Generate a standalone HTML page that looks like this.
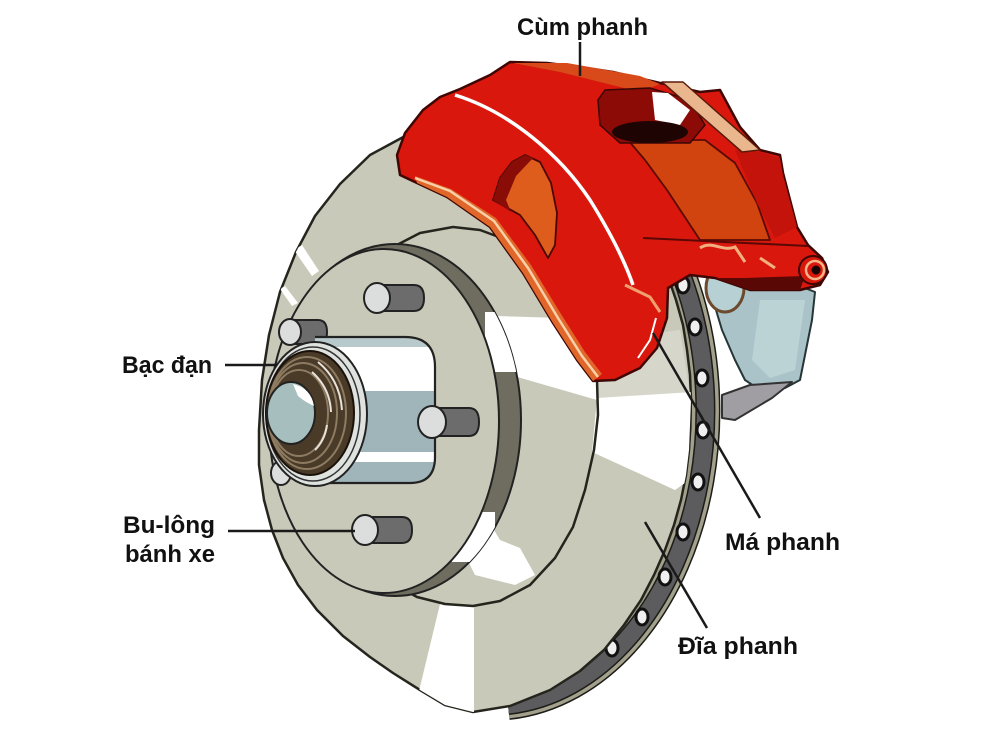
<!DOCTYPE html>
<html><head><meta charset="utf-8">
<style>html,body{margin:0;padding:0;background:#fff}svg{display:block}</style>
</head><body>
<svg xmlns="http://www.w3.org/2000/svg" width="1000" height="750" viewBox="0 0 1000 750">
<defs>
<clipPath id="faceClip"><polygon points="455,126 500,127 540,133 580,150 617,185 645,225 663,262 676,300 683,325 687,350 690,375 691,400 690,425 689,450 686,475 681,500 674,525 665,550 654,575 641,600 624,625 604,650 580,671 550,690 510,706 473,712 445,705 420,690 393,673 370,657 343,636 317,610 298,585 283,558 272,530 264,500 259,465 259,430 262,380 269,335 280,292 296,252 315,216 340,184 370,155 407,135 430,129"/></clipPath>
<clipPath id="bandClip"><ellipse cx="395" cy="420" rx="126" ry="176"/></clipPath>
<clipPath id="hubClip"><path d="M315,337 H405 Q435,337 435,367 V457 Q435,483 410,483 H315 Z"/></clipPath>
</defs>
<rect width="1000" height="750" fill="#fff"/>

<!-- rim band -->
<g fill="none">
<path d="M604,160 A214,295 0 0,1 508,705" stroke="#1c1c18" stroke-width="30"/>
<path d="M604,160 A214,295 0 0,1 508,705" stroke="#a3a18b" stroke-width="27"/>
<path d="M604,160 A214,295 0 0,1 508,705" stroke="#1c1c18" stroke-width="20"/>
<path d="M604,160 A214,295 0 0,1 508,705" stroke="#5c5c5e" stroke-width="17"/>
</g>
<g fill="#efefef" stroke="#111" stroke-width="3">
<ellipse cx="683" cy="285" rx="6" ry="8"/>
<ellipse cx="695" cy="327" rx="6" ry="8"/>
<ellipse cx="702" cy="378" rx="6" ry="8"/>
<ellipse cx="703" cy="430" rx="6" ry="8"/>
<ellipse cx="698" cy="482" rx="6" ry="8"/>
<ellipse cx="683" cy="532" rx="6" ry="8"/>
<ellipse cx="665" cy="577" rx="6" ry="8"/>
<ellipse cx="642" cy="617" rx="6" ry="8"/>
<ellipse cx="612" cy="648" rx="6" ry="8"/>
</g>

<!-- disc face -->
<polygon points="455,126 500,127 540,133 580,150 617,185 645,225 663,262 676,300 683,325 687,350 690,375 691,400 690,425 689,450 686,475 681,500 674,525 665,550 654,575 641,600 624,625 604,650 580,671 550,690 510,706 473,712 445,705 420,690 393,673 370,657 343,636 317,610 298,585 283,558 272,530 264,500 259,465 259,430 262,380 269,335 280,292 296,252 315,216 340,184 370,155 407,135 430,129" fill="#c9c9b9" stroke="#25251e" stroke-width="2.5" stroke-linejoin="round"/>
<g clip-path="url(#faceClip)">
<polygon points="598,340 680,330 690,394 597,398" fill="#d6d6ca"/>
<polygon points="495,316 560,318 590,335 598,385 597,400 500,372" fill="#fff"/>
<polygon points="597,398 692,392 692,478 675,490 592,452" fill="#fff"/>
<polygon points="460,518 487,518 500,540 520,548 535,575 515,585 475,575 460,545" fill="#fff"/>
<polygon points="440,604 474,606 474,720 412,720" fill="#fff"/>
<polygon points="294,250 302,245 319,271 312,276" fill="#fff"/>
<polygon points="280,289 285,286 298,303 292,306" fill="#fff"/>
</g>

<!-- hat outline -->
<polyline points="393,247 420,233 453,227 480,230 507,240 535,257 558,280 576,310 590,345 597,380 598,415 594,450 585,490 573,527 555,558 530,585 500,601 473,606 445,604 417,597 395,585 383,577" fill="none" stroke="#25251e" stroke-width="2.5" stroke-linejoin="round"/>

<!-- flange band -->
<ellipse cx="395" cy="420" rx="126" ry="176" fill="#6f6d5f" stroke="#222" stroke-width="2"/>
<g clip-path="url(#bandClip)" fill="#fff">
<polygon points="485,312 525,312 525,372 485,372"/>
<polygon points="452,512 495,512 495,562 452,562"/>
</g>
<ellipse cx="384" cy="421" rx="115" ry="172" fill="#c9c9b9" stroke="#222" stroke-width="2"/>

<!-- studs -->
<g stroke="#222" stroke-width="2">
<path d="M377,285 H414 Q424,285 424,298 Q424,311 414,311 H377 Z" fill="#6c6c6c"/>
<ellipse cx="377" cy="298" rx="13" ry="15" fill="#dcdedd"/>
<path d="M290,320 H318 Q327,320 327,332 Q327,344 318,344 H290 Z" fill="#6c6c6c"/>
<ellipse cx="290" cy="332" rx="11" ry="13" fill="#dcdedd"/>
<path d="M365,517 H402 Q412,517 412,530 Q412,543 402,543 H365 Z" fill="#6c6c6c"/>
<ellipse cx="365" cy="530" rx="13" ry="15" fill="#dcdedd"/>
<ellipse cx="281" cy="473" rx="10" ry="12" fill="#dcdedd"/>
</g>

<!-- hub cylinder -->
<g clip-path="url(#hubClip)">
<rect x="300" y="330" width="150" height="160" fill="#9fb5ba"/>
<rect x="300" y="337" width="150" height="10" fill="#b8c9cc"/>
<rect x="300" y="347" width="150" height="44" fill="#fff"/>
<rect x="300" y="452" width="150" height="10" fill="#fff"/>
</g>
<path d="M315,337 H405 Q435,337 435,367 V457 Q435,483 410,483 H315" fill="none" stroke="#222" stroke-width="2.2"/>
<g stroke="#222" stroke-width="2">
<path d="M432,408 H469 Q479,408 479,422 Q479,436 469,436 H432 Z" fill="#6c6c6c"/>
<ellipse cx="432" cy="422" rx="14" ry="16" fill="#dcdedd"/>
</g>

<!-- bearing -->
<ellipse cx="315" cy="414" rx="52" ry="72" fill="#dfe3e0" stroke="#222" stroke-width="2"/>
<ellipse cx="313" cy="414" rx="47" ry="67" fill="none" stroke="#333" stroke-width="1.5"/>
<ellipse cx="310" cy="413" rx="44" ry="62" fill="#4a3a28" stroke="#1a120a" stroke-width="2"/>
<g fill="none" stroke="#8d7b62" stroke-width="2">
<ellipse cx="307" cy="413" rx="39" ry="56"/>
<ellipse cx="303" cy="413" rx="34" ry="50"/>
<ellipse cx="299" cy="413" rx="29" ry="43"/>
</g>
<g fill="none" stroke="#e8e2d8" stroke-width="2">
<path d="M318,362 Q340,380 342,410"/>
<path d="M312,372 Q330,388 331,412"/>
<path d="M315,450 Q325,440 327,425"/>
</g>
<ellipse cx="291" cy="413" rx="24" ry="31" fill="#a6bebe" stroke="#222" stroke-width="2"/>
<path d="M293,384 Q311,388 314,406 Q305,402 298,396 Z" fill="#fff"/>

<!-- pads -->
<polygon points="710,268 760,270 815,292 812,320 800,380 785,388 760,390 745,380 735,360 722,330 713,300" fill="#a9c3c8" stroke="#263636" stroke-width="2" stroke-linejoin="round"/>
<polygon points="760,300 805,300 795,370 770,378 752,360" fill="#bcd3d6"/>
<ellipse cx="725" cy="288" rx="19" ry="24" fill="#b6d0d3" stroke="#6b4a2e" stroke-width="3"/>
<polygon points="722,395 750,385 792,382 772,398 735,420 722,418" fill="#a09ea2" stroke="#333" stroke-width="2" stroke-linejoin="round"/>

<!-- caliper -->
<polygon points="417,183 400,175 397,155 405,133 423,110 440,97 460,89 490,75 510,62 547,63 580,67 613,72 660,83 700,92 720,90 740,127 760,150 780,155 783,173 790,200 797,227 808,245 822,258 828,272 820,285 800,290 750,290 715,278 690,275 668,288 667,318 657,348 640,368 615,380 593,381 577,360 553,323 523,273 490,227 447,197" fill="#d9170c" stroke="#3e0704" stroke-width="2.5" stroke-linejoin="round"/>
<polygon points="513,63 567,63 640,76 660,84 640,92 600,82 560,72" fill="#d84a1a"/>
<polygon points="628,140 705,140 735,163 757,203 770,240 700,240 667,190 645,160" fill="#d2440f" stroke="#5a0a05" stroke-width="1.8" stroke-linejoin="round"/>
<polygon points="735,150 760,152 780,158 783,175 797,227 775,238 757,203" fill="#c3130a"/>
<polygon points="598,100 605,90 650,88 690,100 705,125 690,143 620,143 600,125" fill="#8c0b07" stroke="#3a0604" stroke-width="1.5"/>
<polygon points="652,92 668,93 690,110 680,125 655,120" fill="#fff"/>
<ellipse cx="650" cy="132" rx="38" ry="11" fill="#1e0504"/>
<polygon points="662,82 683,82 760,150 742,152" fill="#eab68e" stroke="#5a1a0a" stroke-width="1.5" stroke-linejoin="round"/>
<!-- window -->
<polygon points="493,200 500,178 512,162 525,155 540,162 551,183 557,213 555,245 548,258 535,235 520,215" fill="#de5c1c" stroke="#4a0805" stroke-width="1.8" stroke-linejoin="round"/>
<polygon points="493,200 500,178 512,162 525,155 533,158 516,176 506,200 511,212" fill="#8a0c07"/>
<!-- lower lip -->
<polygon points="417,183 447,197 490,227 523,273 553,323 577,360 593,381 602,374 585,352 561,314 531,265 496,218 451,189 415,176" fill="#e0662a"/>
<polyline points="415,178 450,191 494,221 528,268 558,318 582,356 598,377" fill="none" stroke="#f8d0a8" stroke-width="2.5"/>
<path d="M455,95 C510,112 560,155 590,200 C610,232 625,262 633,285" fill="none" stroke="#fff" stroke-width="3.5"/>
<!-- bracket -->
<line x1="643" y1="238" x2="808" y2="246" stroke="#5a0805" stroke-width="2"/>
<polygon points="745,278 805,276 800,290 750,290 715,278" fill="#5a0805"/>
<path d="M700,248 C712,240 722,252 735,247 L745,262" fill="none" stroke="#f0b080" stroke-width="3"/>
<path d="M760,258 L775,268" fill="none" stroke="#f0b080" stroke-width="3"/>
<path d="M625,285 L650,297 L660,312" fill="none" stroke="#f0a070" stroke-width="3"/>
<path d="M656,318 L650,340 L638,358" fill="none" stroke="#fff" stroke-width="2"/>
<circle cx="813" cy="270" r="14" fill="#d9170c" stroke="#3e0704" stroke-width="2"/>
<circle cx="815" cy="270" r="9" fill="none" stroke="#f3b48a" stroke-width="2.5"/>
<circle cx="816" cy="270" r="4.5" fill="#1a0403"/>

<!-- leader lines -->
<g stroke="#1a1a1a" stroke-width="2.5" fill="none">
<line x1="580" y1="42" x2="580" y2="76"/>
<line x1="225" y1="365" x2="277" y2="365"/>
<line x1="228" y1="531" x2="355" y2="531"/>
<line x1="653" y1="333" x2="760" y2="518"/>
<line x1="645" y1="522" x2="707" y2="628"/>
</g>

<!-- labels -->
<g font-family="'Liberation Sans','DejaVu Sans',sans-serif" font-weight="bold" font-size="24" fill="#111">
<text x="517" y="35" textLength="131" lengthAdjust="spacingAndGlyphs">Cùm phanh</text>
<text x="122" y="373" textLength="90" lengthAdjust="spacingAndGlyphs">Bạc đạn</text>
<text x="123" y="533" textLength="92" lengthAdjust="spacingAndGlyphs">Bu-lông</text>
<text x="125" y="562" textLength="90" lengthAdjust="spacingAndGlyphs">bánh xe</text>
<text x="725" y="550" textLength="115" lengthAdjust="spacingAndGlyphs">Má phanh</text>
<text x="678" y="654" textLength="120" lengthAdjust="spacingAndGlyphs">Đĩa phanh</text>
</g>
</svg>
</body></html>
